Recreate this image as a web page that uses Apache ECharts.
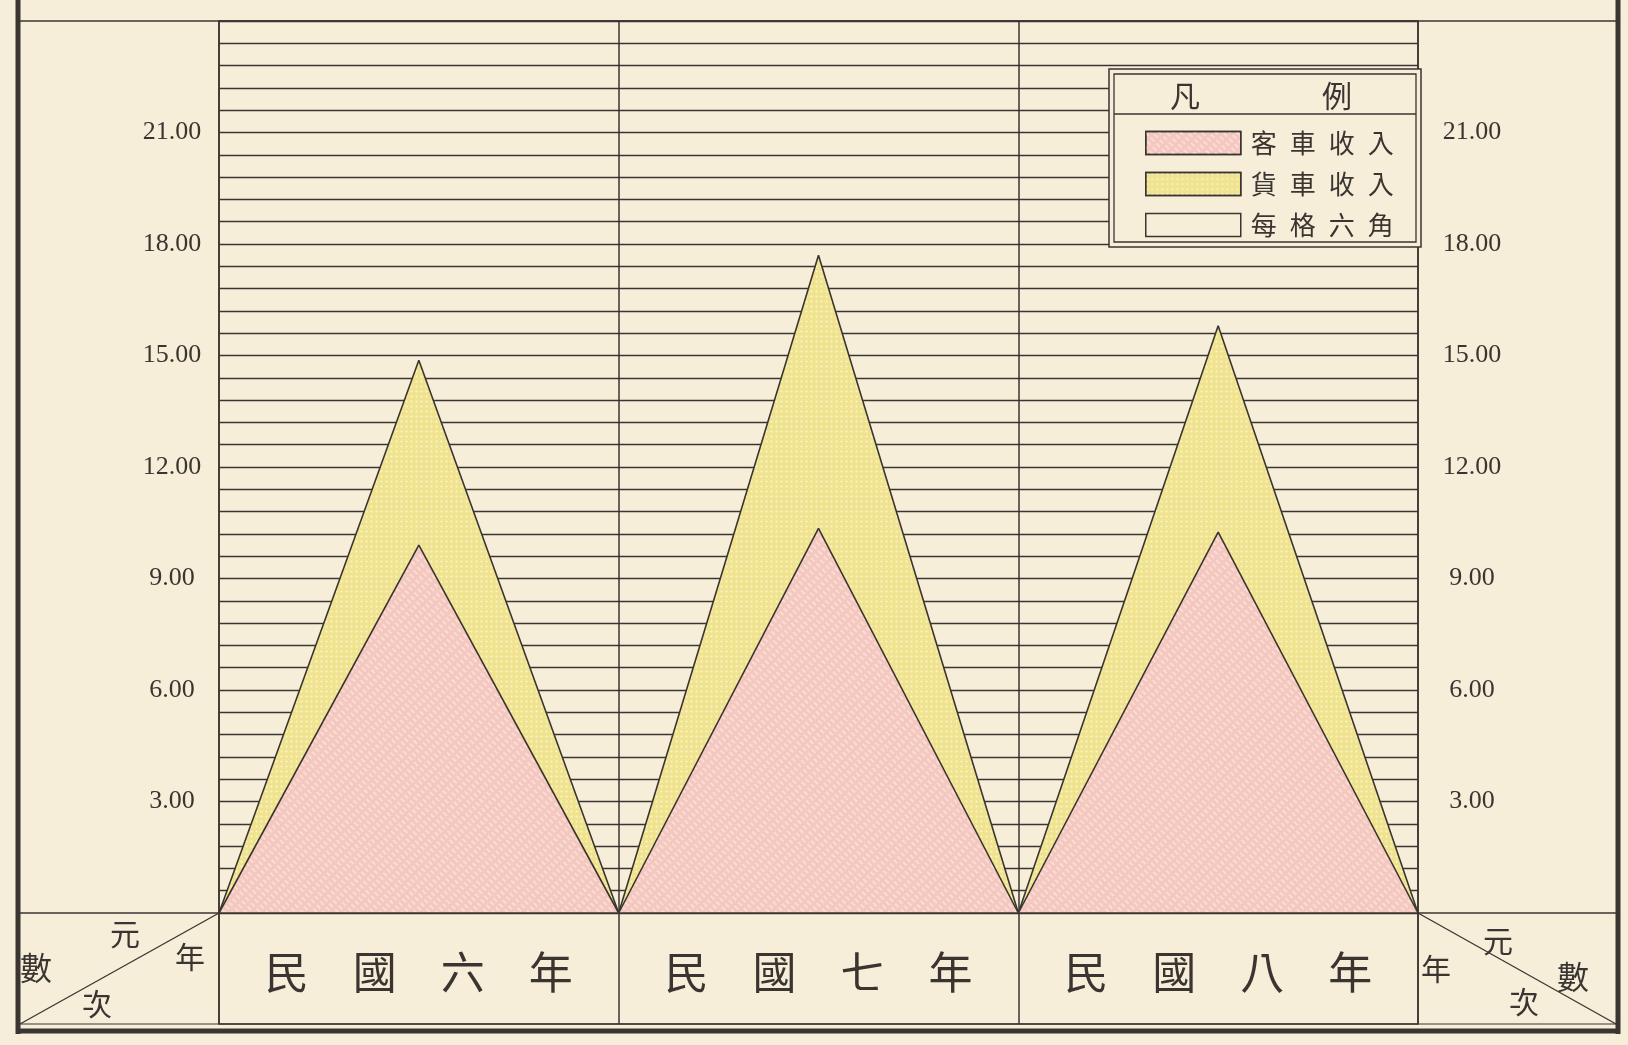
<!DOCTYPE html>
<html>
<head>
<meta charset="utf-8">
<script src="https://cdn.jsdelivr.net/npm/echarts@6/dist/echarts.min.js"></script>
<style>
  html, body { margin: 0; padding: 0; background: #f7eeda; }
  #chart { width: 1628px; height: 1045px; }
</style>
</head>
<body>
<div id="chart"></div>
<script>
// ---- data ----
const categories = ['民國六年', '民國七年', '民國八年'];
const passengerRevenue = [9.9, 10.35, 10.25];   // 客車收入 (元)
const freightRevenue = [4.97, 7.35, 5.55];      // 貨車收入 (元)
const yLabelValues = [3, 6, 9, 12, 15, 18, 21];
const yTickLabels = ['3.00', '6.00', '9.00', '12.00', '15.00', '18.00', '21.00'];
const legendNames = ['客車收入', '貨車收入', '每格六角'];
const legendTitle = ['凡', '例'];
const cornerTextLeft = ['元', '年', '數', '次'];
const cornerTextRight = ['年', '元', '數', '次'];

// ---- styling ----
const PAPER = '#f7eeda';
const INK = '#3a3531';
const PINK = '#f4c8c0';
const YELLOW = '#f0e38f';
const CJK = '"Noto Sans CJK TC", "Noto Sans CJK SC", sans-serif';
const NUM = '"Liberation Serif", "DejaVu Serif", serif';

const pinkDecal = {
  symbol: 'rect', symbolSize: 1, color: 'rgba(255,236,222,0.55)',
  dashArrayX: [5, 3], dashArrayY: [1.5, 2.5], rotation: Math.PI / 4
};
const yellowDecal = {
  symbol: 'circle', symbolSize: 0.7, color: 'rgba(255,250,228,0.75)',
  dashArrayX: [3, 2], dashArrayY: [3, 2]
};

// each year is a triangle: zero at the column borders, peak in the middle
function triangles(values) {
  const pts = [];
  for (let k = 0; k <= values.length * 2; k++) {
    pts.push([k / 2, k % 2 === 1 ? values[(k - 1) / 2] : 0]);
  }
  return pts;
}
// freight band sits on top of passenger band
const totalRevenue = passengerRevenue.map((p, i) => p + freightRevenue[i]);

function yLabel(v) {
  const r = Math.round(v * 10) / 10;
  const i = yLabelValues.indexOf(r);
  return i >= 0 ? yTickLabels[i] : '';
}

const spaced = (s, sep) => s.split('').join(sep);

const chart = echarts.init(document.getElementById('chart'), null, { renderer: 'canvas' });

const L = 219, R = 1418, T = 21, B = 913, TB = 1024;

function txt(t, x, y, size) {
  return { type: 'text', z: 60, x: x, y: y, style: { text: t, font: size + 'px ' + CJK, fill: INK, align: 'center', verticalAlign: 'middle' } };
}

chart.setOption({
  backgroundColor: PAPER,
  animation: false,
  grid: [
    { left: L, right: 1628 - R, top: T, bottom: 1045 - B, show: true, borderColor: INK, borderWidth: 1.5, backgroundColor: 'transparent' },
    { left: L, right: 1628 - R, top: B, bottom: 1045 - TB, show: true, borderColor: INK, borderWidth: 1.5, backgroundColor: 'transparent' }
  ],
  xAxis: [
    {
      type: 'value', gridIndex: 0, min: 0, max: categories.length, interval: 1,
      axisLine: { show: false }, axisTick: { show: false }, axisLabel: { show: false },
      splitLine: { show: true, lineStyle: { color: INK, width: 1.5 } }
    },
    {
      type: 'category', gridIndex: 1, position: 'top', data: categories, boundaryGap: true,
      axisLine: { show: false }, axisTick: { show: false },
      splitLine: { show: true, interval: 0, lineStyle: { color: INK, width: 1.5 } },
      axisLabel: {
        inside: true, margin: 59, verticalAlign: 'middle', interval: 0,
        fontFamily: CJK, fontSize: 44, color: INK,
        formatter: v => spaced(v, '\u3000')
      }
    }
  ],
  yAxis: [
    {
      type: 'value', gridIndex: 0, position: 'left', min: 0, max: 24, interval: 0.6,
      axisLine: { show: false }, axisTick: { show: false },
      splitLine: { show: true, lineStyle: { color: INK, width: 1.3 } },
      axisLabel: { margin: 47, align: 'center', fontFamily: NUM, fontSize: 26, color: INK, formatter: yLabel }
    },
    {
      type: 'value', gridIndex: 0, position: 'right', min: 0, max: 24, interval: 0.6,
      axisLine: { show: false }, axisTick: { show: false }, splitLine: { show: false },
      axisLabel: { margin: 54, align: 'center', fontFamily: NUM, fontSize: 26, color: INK, formatter: yLabel }
    },
    { type: 'value', gridIndex: 1, show: false, min: 0, max: 1 }
  ],
  legend: {
    orient: 'vertical', left: 1145, top: 130, padding: 0, z: 100,
    itemWidth: 95, itemHeight: 23, itemGap: 15, icon: 'rect', selectedMode: false,
    data: [
      { name: legendNames[0], itemStyle: { color: PINK, borderColor: INK, borderWidth: 1.5, decal: pinkDecal } },
      { name: legendNames[1], itemStyle: { color: YELLOW, borderColor: INK, borderWidth: 1.5, decal: yellowDecal } },
      { name: legendNames[2], itemStyle: { color: PAPER, borderColor: INK, borderWidth: 1.5 } }
    ],
    formatter: n => spaced(n, '\u2002'),
    textStyle: { fontFamily: CJK, fontSize: 26, color: INK, padding: [0, 0, 0, 5] }
  },
  series: [
    {
      name: legendNames[1], type: 'line', xAxisIndex: 0, yAxisIndex: 0,
      data: triangles(totalRevenue), symbol: 'none', smooth: false, z: 2,
      lineStyle: { color: INK, width: 1.6, decal: yellowDecal },
      itemStyle: { color: YELLOW, decal: yellowDecal },
      areaStyle: { color: YELLOW, opacity: 1 }
    },
    {
      name: legendNames[0], type: 'line', xAxisIndex: 0, yAxisIndex: 0,
      data: triangles(passengerRevenue), symbol: 'none', smooth: false, z: 3,
      lineStyle: { color: INK, width: 1.6, decal: pinkDecal },
      itemStyle: { color: PINK, decal: pinkDecal },
      areaStyle: { color: PINK, opacity: 1 }
    },
    {
      name: legendNames[2], type: 'line', xAxisIndex: 0, yAxisIndex: 0, data: [],
      symbol: 'none', itemStyle: { color: PAPER }
    }
  ],
  graphic: [
    // outer frame
    { type: 'line', z: 60, shape: { x1: 18, y1: 0, x2: 18, y2: 1034 }, style: { stroke: INK, lineWidth: 5 } },
    { type: 'line', z: 60, shape: { x1: 1618, y1: 0, x2: 1618, y2: 1034 }, style: { stroke: INK, lineWidth: 5 } },
    { type: 'line', z: 60, shape: { x1: 16, y1: 1031, x2: 1620, y2: 1031 }, style: { stroke: INK, lineWidth: 5 } },
    { type: 'line', z: 60, shape: { x1: 18, y1: T, x2: 1618, y2: T }, style: { stroke: INK, lineWidth: 1.5 } },
    // baseline across the corner cells
    { type: 'line', z: 60, shape: { x1: 18, y1: B, x2: 1618, y2: B }, style: { stroke: INK, lineWidth: 1.5 } },
    { type: 'line', z: 60, shape: { x1: 18, y1: TB, x2: 1618, y2: TB }, style: { stroke: INK, lineWidth: 1.2 } },
    // corner cell diagonals
    { type: 'line', z: 60, shape: { x1: 20, y1: TB, x2: L, y2: B }, style: { stroke: INK, lineWidth: 1.3 } },
    { type: 'line', z: 60, shape: { x1: R, y1: B, x2: 1616, y2: TB }, style: { stroke: INK, lineWidth: 1.3 } },
    // corner texts
    txt(cornerTextLeft[0], 125, 934, 30),
    txt(cornerTextLeft[1], 190, 957, 30),
    txt(cornerTextLeft[2], 36, 968, 32),
    txt(cornerTextLeft[3], 97, 1004, 30),
    txt(cornerTextRight[0], 1436, 969, 30),
    txt(cornerTextRight[1], 1498, 941, 30),
    txt(cornerTextRight[2], 1573, 977, 32),
    txt(cornerTextRight[3], 1524, 1002, 30),
    // legend box (double border)
    { type: 'rect', z: 50, shape: { x: 1109, y: 69, width: 312, height: 178 }, style: { fill: PAPER, stroke: INK, lineWidth: 1.5 } },
    { type: 'rect', z: 51, shape: { x: 1114, y: 74, width: 302, height: 168 }, style: { fill: 'none', stroke: INK, lineWidth: 1.3 } },
    { type: 'line', z: 51, shape: { x1: 1114, y1: 114, x2: 1416, y2: 114 }, style: { stroke: INK, lineWidth: 1.3 } },
    txt(legendTitle[0], 1185, 96, 30),
    txt(legendTitle[1], 1337, 96, 30)
  ]
});
</script>
</body>
</html>
